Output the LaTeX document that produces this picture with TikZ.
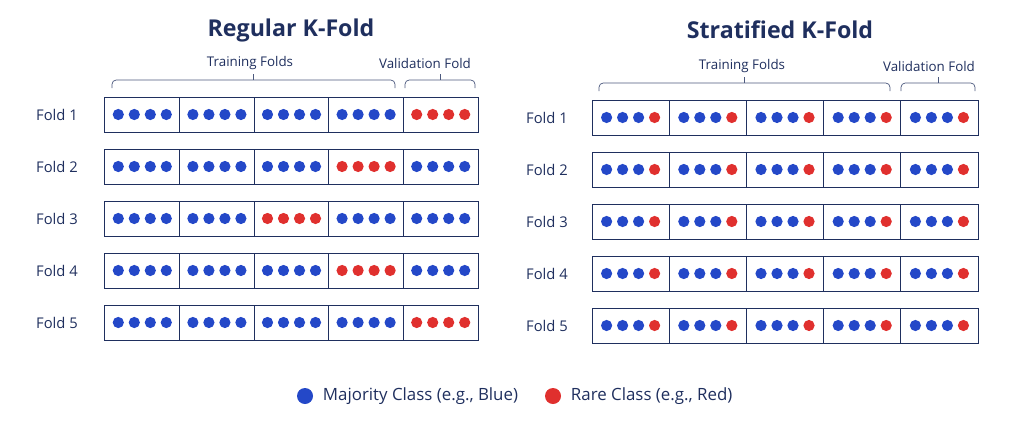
\documentclass[tikz,border=0pt]{standalone}
\usepackage{fontspec}
\setmainfont{Open Sans}
\begin{document}
\definecolor{navy}{HTML}{1F2F5E}
\definecolor{dotblue}{HTML}{2448C8}
\definecolor{dotred}{HTML}{E0302E}
\begin{tikzpicture}[x=0.025cm, y=-0.025cm,
    cell/.style={draw=navy, line width=0.7pt, minimum height=0.875cm, inner sep=0pt},
    dot/.style={circle, fill=#1, minimum size=0.28cm, inner sep=0pt},
    fold/.style={text=navy, font=\fontsize{10.5}{12}\selectfont},
    brace/.style={draw=navy!80, line width=0.5pt, rounded corners=3pt},
    title/.style={text=navy, font=\bfseries\fontsize{16.5}{19}\selectfont}]
    \useasboundingbox (0,0) rectangle (1024,440);

    % Titles
    \node[title] (tl) at (291,30) {Regular K-Fold};
    \node[title] (tr) at (780,30) {Stratified K-Fold};

    % Regular grid: red column per fold
    \foreach \r/\red in {1/5,2/4,3/3,4/4,5/5} {
        \node[fold] (lf\r) at (57,{114.5+52*(\r-1)}) {Fold \r};
        \foreach \c in {1,...,5} {
            \node[cell, minimum width=1.865cm] (l\r\c) at ({105+74.6*(\c-0.5)},{114.5+52*(\r-1)}) {};
            \ifnum\c=\red \def\col{dotred}\else\def\col{dotblue}\fi
            \foreach \k in {-1.5,-0.5,0.5,1.5}
                \node[dot=\col] at ([xshift=\k*0.4cm]l\r\c.center) {};
        }
    }

    % Stratified grid: three blue, one red per cell
    \foreach \r in {1,...,5} {
        \node[fold] (rf\r) at (547,{117.5+52*(\r-1)}) {Fold \r};
        \foreach \c in {1,...,5} {
            \node[cell, minimum width=1.93cm] (r\r\c) at ({592+77.2*(\c-0.5)},{117.5+52*(\r-1)}) {};
            \foreach \k/\col in {-1.5/dotblue,-0.5/dotblue,0.5/dotblue,1.5/dotred}
                \node[dot=\col] at ([xshift=\k*0.4cm]r\r\c.center) {};
        }
    }

    % Braces
    \draw[brace] (112,88) -- (112,80) -- (395,80) -- (395,88);
    \draw[brace] (253,80) -- (253,74);
    \draw[brace] (405,88) -- (405,80) -- (475,80) -- (475,88);
    \draw[brace] (440,80) -- (440,74);
    \draw[brace] (599,91) -- (599,83) -- (890,83) -- (890,91);
    \draw[brace] (744,83) -- (744,77);
    \draw[brace] (901,91) -- (901,83) -- (975,83) -- (975,91);
    \draw[brace] (938,83) -- (938,77);
    \node[fold, font=\fontsize{9.5}{11}\selectfont] (tfl) at (250,63) {Training Folds};
    \node[fold, font=\fontsize{9.5}{11}\selectfont] (vfl) at (425,63) {Validation Fold};
    \node[fold, font=\fontsize{9.5}{11}\selectfont] (tfr) at (742,66) {Training Folds};
    \node[fold, font=\fontsize{9.5}{11}\selectfont] (vfr) at (929,66) {Validation Fold};

    % Legend
    \node[dot=dotblue, minimum size=0.4cm] (lb) at (305,396) {};
    \node[fold, anchor=west, font=\fontsize{12}{14}\selectfont] (lbt) at (318,396) {Majority Class (e.g., Blue)};
    \node[dot=dotred, minimum size=0.4cm] (lr) at (553,396) {};
    \node[fold, anchor=west, font=\fontsize{12}{14}\selectfont] (lrt) at (566,396) {Rare Class (e.g., Red)};
\end{tikzpicture}
\end{document}
